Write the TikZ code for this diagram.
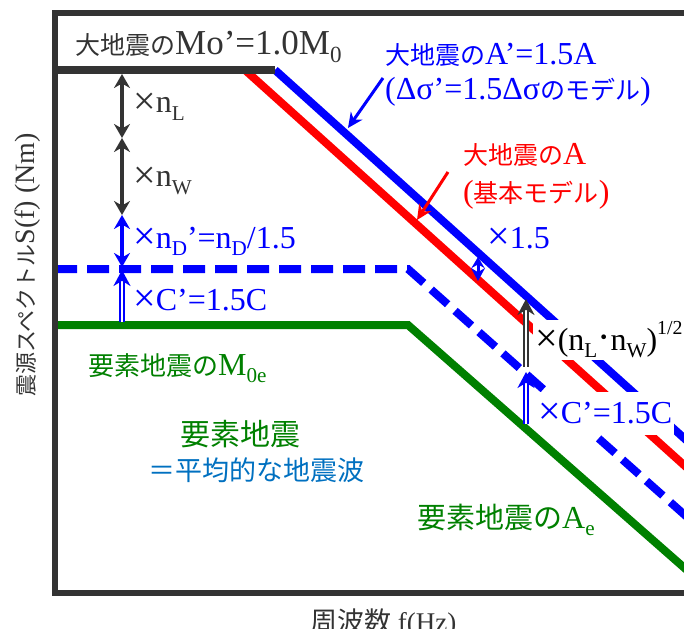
\documentclass[tikz,border=0pt]{standalone}
\usepackage{fontspec}
\usepackage{graphicx}
\setmainfont{Liberation Serif}
\newfontfamily\jp{Noto Sans CJK JP}
\usetikzlibrary{arrows.meta}
\definecolor{ink}{HTML}{333333}
\definecolor{sblue}{HTML}{0000FF}
\definecolor{sred}{HTML}{FF0000}
\definecolor{sgreen}{HTML}{008000}
\definecolor{wblue}{HTML}{0070C0}
\newcommand{\fs}[1]{\fontsize{#1}{#1}\selectfont}
\newcommand{\J}[2][25]{{\jp\fs{#1}#2}}
\newcommand{\lo}[1]{\raisebox{-0.22em}{\scalebox{0.66}{#1}}}
\newcommand{\hi}[1]{\raisebox{0.5em}{\scalebox{0.62}{#1}}}
\newcommand{\tms}{\raisebox{-0.04em}{\scalebox{1.25}{×}}}

\begin{document}
\begin{tikzpicture}[x=1pt, y=-1pt, >=Stealth,
  spec/.style={line width=8pt},
  dim/.style={line width=3.5pt, {Stealth[length=14pt,width=16pt]}-{Stealth[length=14pt,width=16pt]}},
  small dim/.style={line width=3pt, {Stealth[length=11pt,width=13pt]}-{Stealth[length=13pt,width=14pt]}},
  ratio/.style={line width=2.2pt, double distance=1.8pt, -{Stealth[length=16pt,width=17pt]}},
  pointer/.style={line width=3pt, -{Stealth[length=15pt,width=14pt]}},
  lbl/.style={anchor=base west, inner sep=0pt, font=\fs{32}},
  gap/.style={lbl, fill=white, inner sep=2pt}]
  \useasboundingbox (0,0) rectangle (684,628);
  \clip (0,0) rectangle (684,628);
  % source spectra of the large event
  \draw[spec, sblue] (275,70) -- (705,457);
  \draw[spec, sred] (245,70) -- (705,484);
  \draw[spec, sblue, dash pattern=on 22pt off 10pt] (55,269) -- (408,269) -- (705,533);
  % labels that cut the lines
  \node[gap, text height=28pt, text depth=8pt] (nLW) at (533,350)
    {\tms(n\lo{L}{\fs{40}·}n\lo{W})\hi{1/2}};
  \node[gap, text height=29pt, text depth=10pt, text=sblue] (C2) at (536,423) {\tms C’=1.5C};
  % small event spectrum
  \draw[spec, sgreen] (55,325) -- (408,325) -- (705,586);
  % flat level and frame
  \draw[spec, ink] (55,70) -- (275,70);
  \draw[ink, line width=6pt] (720,13) -- (55,13) -- (55,593) -- (720,593);
  % ratio arrows, left
  \coordinate (pL) at (122,74);
  \coordinate (pLW) at (122,138);
  \coordinate (pWD) at (122,215);
  \coordinate (pD) at (122,267);
  \coordinate (pC) at (122,270);
  \coordinate (pG) at (122,322);
  \draw[dim, ink] (pL) -- (pLW);
  \draw[dim, ink] (pLW) -- (pWD);
  \draw[dim, sblue] (pWD) -- (pD);
  \draw[ratio, sblue] (pG) -- (pC);
  % ratio arrows, right
  \coordinate (qB) at (478,257);
  \coordinate (qR) at (478,281);
  \coordinate (qA) at (526,299);
  \coordinate (qD) at (526,367);
  \coordinate (qD2) at (526,372);
  \coordinate (qG) at (526,424);
  \draw[small dim, sblue] (qB) -- (qR);
  \draw[ratio, ink] (qD) -- (qA);
  \draw[ratio, sblue] (qG) -- (qD2);
  % pointers to the lines
  \coordinate (bFrom) at (383,78);
  \coordinate (bTo) at (348,128);
  \coordinate (rFrom) at (448,172);
  \coordinate (rTo) at (417,220);
  \draw[pointer, sblue] (bFrom) -- (bTo);
  \draw[pointer, sred] (rFrom) -- (rTo);
  % texts
  \node[lbl, font=\fs{35}, text=ink] (Mo) at (75,55) {\J{大地震の}Mo’=1.0M\lo{0}};
  \node[lbl, text=sblue] (Ab1) at (385,65) {\J{大地震の}A’=1.5A};
  \node[lbl, text=sblue] (Ab2) at (385,100) {(Δσ’=1.5Δσ\J{のモデル})};
  \node[lbl, text=sred] (Ar1) at (463,165) {\J{大地震の}A};
  \node[lbl, text=sred] (Ar2) at (463,202) {(\J{基本モデル})};
  \node[lbl, text=sblue] (x15) at (487,248) {\tms 1.5};
  \node[lbl, text=ink] (nL) at (133,113) {\tms n\lo{L}};
  \node[lbl, text=ink] (nW) at (133,187) {\tms n\lo{W}};
  \node[lbl, text=sblue] (nD) at (133,248) {\tms n\lo{D}’=n\lo{D}/1.5};
  \node[lbl, text=sblue] (C1) at (133,310) {\tms C’=1.5C};
  \node[lbl, text=sgreen] (M0e) at (88,375) {\J[26]{要素地震の}M\lo{0e}};
  \node[lbl, text=sgreen] (elem) at (180,445) {\J[30]{要素地震}};
  \node[lbl, text=wblue] (avg) at (148,480) {\J[27]{＝平均的な地震波}};
  \node[lbl, text=sgreen] (Ae) at (417,528) {\J[29]{要素地震の}A\lo{e}};
  \node[lbl, font=\fs{27}, text=ink] (xlab) at (310,631) {\J[27]{周波数} f(Hz)};
  \node[font=\fs{28}, text=ink, rotate=90, inner sep=0pt] (ylab) at (28,265) {\J[22]{震源スペクトル}S(f) (Nm)};
\end{tikzpicture}
\end{document}
